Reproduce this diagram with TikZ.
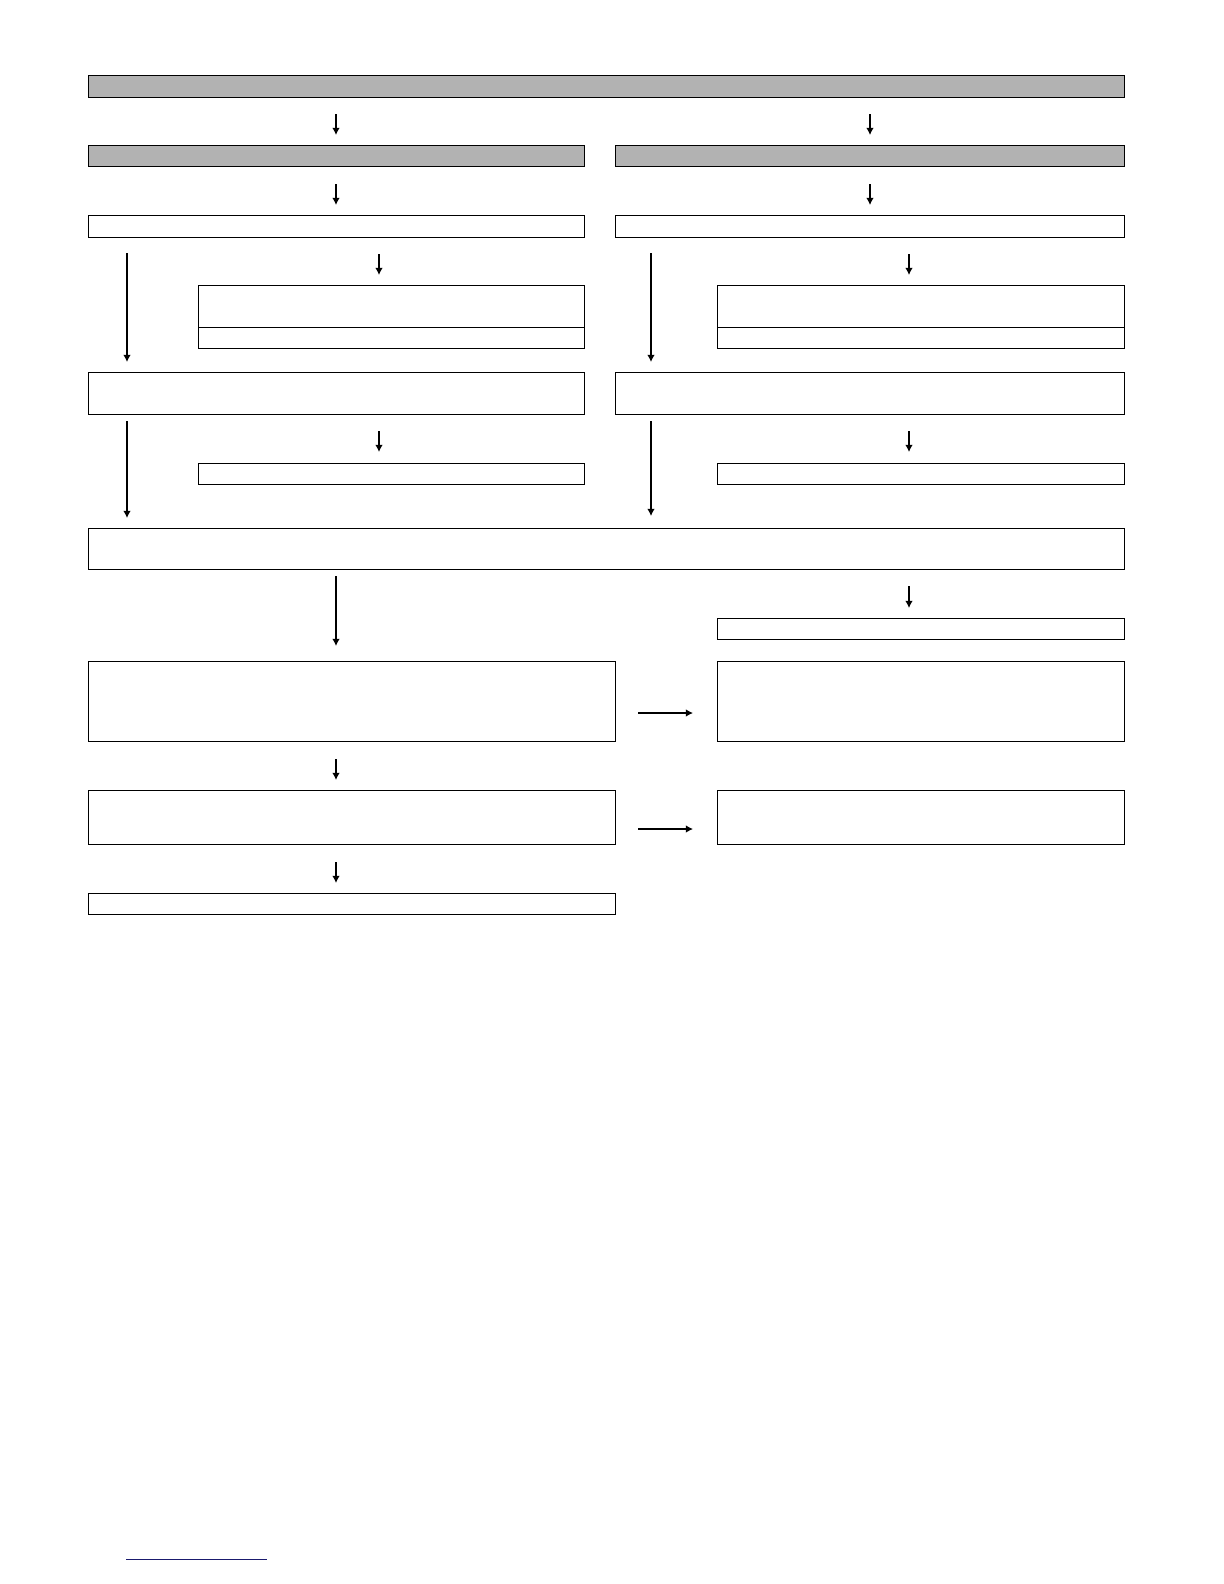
\documentclass[tikz,border=0pt]{standalone}
\usepackage{xcolor}
\usepackage{tikz}
\usetikzlibrary{calc, arrows.meta, positioning}
\definecolor{headgray}{gray}{0.7}
\definecolor{linkblue}{RGB}{26,26,110}

\begin{document}
\begin{tikzpicture}[x=0.5bp, y=-0.5bp, >={Latex[length=3.6bp, width=3.8bp]}, line width=0.7bp]
	\tikzstyle{box} = [draw=black, rectangle, inner sep=0pt, anchor=north west]
	\tikzstyle{head} = [box, fill=headgray]
	\tikzstyle{link} = [draw, ->, line width=0.6bp, shorten <=8bp, shorten >=5bp]
	
	\useasboundingbox (0,0) rectangle (1224,1584);
	
	% columns and rows of the arrows
	\coordinate (xa) at (336,0);
	\coordinate (xb) at (870,0);
	\coordinate (xc) at (127,0);
	\coordinate (xd) at (379,0);
	\coordinate (xe) at (651,0);
	\coordinate (xf) at (909,0);
	\coordinate (ya) at (0,713);
	\coordinate (yb) at (0,829);
	
	\node[head, minimum width=518bp, minimum height=11bp]	at (88, 75)	(top)	{};
	\node[head, minimum width=248bp, minimum height=10.5bp]	at (88, 145)	(hl)	{};
	\node[head, minimum width=254.5bp, minimum height=10.5bp]	at (615, 145)	(hr)	{};
	\node[box, minimum width=248bp, minimum height=11bp]	at (88, 215)	(sl)	{};
	\node[box, minimum width=254.5bp, minimum height=11bp]	at (615, 215)	(sr)	{};
	\node[box, minimum width=193bp, minimum height=21bp]	at (198, 285)	(cla)	{};
	\node[box, minimum width=193bp, minimum height=10.5bp]	at (198, 327)	(clb)	{};
	\node[box, minimum width=203.5bp, minimum height=21bp]	at (717, 285)	(cra)	{};
	\node[box, minimum width=203.5bp, minimum height=10.5bp]	at (717, 327)	(crb)	{};
	\node[box, minimum width=248bp, minimum height=21bp]	at (88, 372)	(ml)	{};
	\node[box, minimum width=254.5bp, minimum height=21bp]	at (615, 372)	(mr)	{};
	\node[box, minimum width=193bp, minimum height=10.5bp]	at (198, 463)	(nl)	{};
	\node[box, minimum width=203.5bp, minimum height=10.5bp]	at (717, 463)	(nr)	{};
	\node[box, minimum width=518bp, minimum height=20.5bp]	at (88, 528)	(wide)	{};
	\node[box, minimum width=203.5bp, minimum height=10.5bp]	at (717, 618)	(rb)	{};
	\node[box, minimum width=263.5bp, minimum height=40bp]	at (88, 661)	(bl)	{};
	\node[box, minimum width=203.5bp, minimum height=40bp]	at (717, 661)	(br)	{};
	\node[box, minimum width=263.5bp, minimum height=27bp]	at (88, 790)	(dl)	{};
	\node[box, minimum width=203.5bp, minimum height=27bp]	at (717, 790)	(dr)	{};
	\node[box, minimum width=263.5bp, minimum height=10.5bp]	at (88, 893)	(el)	{};
	
	\path[every edge/.append style={link}]
	(top.south -| xa) edge (hl.north -| xa)
	(top.south -| xb) edge (hr.north -| xb)
	(hl.south -| xa) edge[shorten <=8.5bp] (sl.north -| xa)
	(hr.south -| xb) edge[shorten <=8.5bp] (sr.north -| xb)
	(sl.south -| xc) edge[shorten <=7.5bp] (ml.north -| xc)
	(sl.south -| xd) edge (cla.north -| xd)
	(sr.south -| xe) edge[shorten <=7.5bp] (mr.north -| xe)
	(sr.south -| xf) edge (cra.north -| xf)
	(ml.south -| xc) edge[shorten <=3bp] (wide.north -| xc)
	(ml.south -| xd) edge[shorten >=5.5bp] (nl.north -| xd)
	(mr.south -| xe) edge[shorten <=3bp, shorten >=6bp] (wide.north -| xe)
	(mr.south -| xf) edge[shorten >=5.5bp] (nr.north -| xf)
	(wide.south -| xa) edge[shorten <=3bp, shorten >=7.5bp] (bl.north -| xa)
	(wide.south -| xf) edge (rb.north -| xf)
	(bl.south -| xa) edge[shorten <=8.5bp] (dl.north -| xa)
	(dl.south -| xa) edge[shorten <=8.5bp] (el.north -| xa)
	(bl.east |- ya) edge[shorten <=11bp, shorten >=12bp] (br.west |- ya)
	(dl.east |- yb) edge[shorten <=11bp, shorten >=12bp] (dr.west |- yb);
	
	\draw[linkblue, line width=0.5bp] (126,1559) -- (267,1559);
	
\end{tikzpicture}
\end{document}
